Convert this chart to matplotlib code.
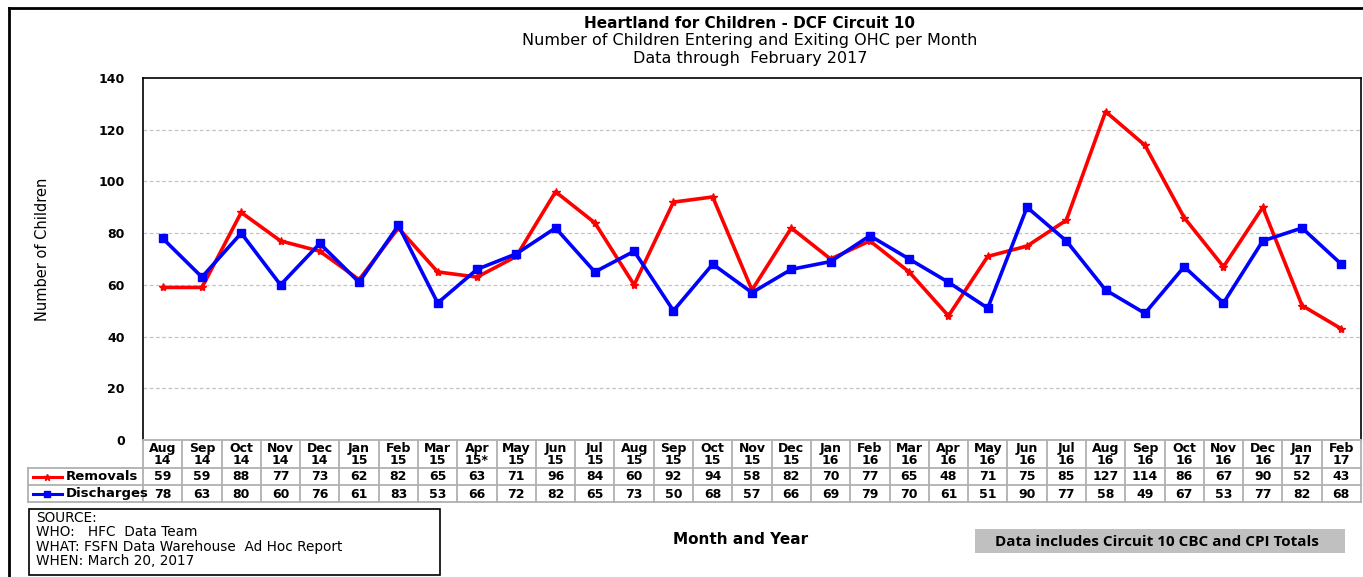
import matplotlib.pyplot as plt
from matplotlib.patches import Rectangle
from matplotlib.lines import Line2D

months = ['Aug\n14', 'Sep\n14', 'Oct\n14', 'Nov\n14', 'Dec\n14', 'Jan\n15', 'Feb\n15', 'Mar\n15',
          'Apr\n15*', 'May\n15', 'Jun\n15', 'Jul\n15', 'Aug\n15', 'Sep\n15', 'Oct\n15', 'Nov\n15',
          'Dec\n15', 'Jan\n16', 'Feb\n16', 'Mar\n16', 'Apr\n16', 'May\n16', 'Jun\n16', 'Jul\n16',
          'Aug\n16', 'Sep\n16', 'Oct\n16', 'Nov\n16', 'Dec\n16', 'Jan\n17', 'Feb\n17']
removals = [59, 59, 88, 77, 73, 62, 82, 65, 63, 71, 96, 84, 60, 92, 94, 58,
            82, 70, 77, 65, 48, 71, 75, 85, 127, 114, 86, 67, 90, 52, 43]
discharges = [78, 63, 80, 60, 76, 61, 83, 53, 66, 72, 82, 65, 73, 50, 68, 57,
              66, 69, 79, 70, 61, 51, 90, 77, 58, 49, 67, 53, 77, 82, 68]
yticks = [0, 20, 40, 60, 80, 100, 120, 140]

plt.rcParams['font.family'] = ['DejaVu Sans']

W, H = 1363, 577
fig = plt.figure(figsize=(W / 100, H / 100), dpi=100)


def fx(px):
    return px / W


def fy(py):
    return 1 - py / H


# main plot area (pixel box)
L, R, T, B = 143, 1361, 78, 440
ax = fig.add_axes([fx(L), fy(B), fx(R - L), fy(T) - fy(B)])
n = len(months)
x = list(range(n))
ax.plot(x, removals, color='#ff0000', lw=2.6, marker='*', ms=6, zorder=3)
ax.plot(x, discharges, color='#0000ff', lw=2.6, marker='s', ms=6, zorder=4)
ax.set_xlim(-0.5, n - 0.5)
ax.set_ylim(0, 140)
ax.set_yticks(yticks)
ax.set_yticklabels([str(v) for v in yticks], fontweight='bold', fontsize=9)
ax.tick_params(axis='y', length=0, pad=13)
ax.set_xticks([])
for v in yticks[1:-1]:
    ax.axhline(v, color='#c4c4c4', lw=0.9, ls=(0, (3, 2)), zorder=1)
for s in ['left', 'top', 'right']:
    ax.spines[s].set_linewidth(1.2)
ax.spines['bottom'].set_visible(False)
ax.set_ylabel('Number of Children', fontsize=10.5)
ax.yaxis.set_label_coords(-(L - 50) / (R - L), (B - 249) / (B - T))

# data table below the plot
TL = 28
tab = fig.add_axes([fx(TL), fy(502), fx(R - TL), fy(440) - fy(502)])
col_w = (R - L) / n
left_units = (L - TL) / col_w
tab.set_xlim(-0.5 - left_units, n - 0.5)
tab.set_ylim(502, 440)
tab.axis('off')
grid = '#b0b0b0'
rows = [440, 468, 485, 502]
for i in range(n + 1):
    tab.plot([i - 0.5, i - 0.5], [440, 502], color=grid, lw=1.3, clip_on=False)
tab.plot([-0.5 - left_units, -0.5 - left_units], [468, 502], color=grid, lw=1.3, clip_on=False)
tab.plot([-0.5, n - 0.5], [440, 440], color=grid, lw=1.3, clip_on=False)
for r in rows[1:]:
    tab.plot([-0.5 - left_units, n - 0.5], [r, r], color=grid, lw=1.3, clip_on=False)
for i in range(n):
    tab.text(i, 454.5, months[i], ha='center', va='center', fontsize=9, fontweight='bold',
             linespacing=0.92)
    tab.text(i, 477, str(removals[i]), ha='center', va='center', fontsize=9, fontweight='bold')
    tab.text(i, 494, str(discharges[i]), ha='center', va='center', fontsize=9, fontweight='bold')
x0 = -0.5 - left_units
lx = [x0 + 5 / col_w, x0 + 19 / col_w, x0 + 34 / col_w]
tab.add_line(Line2D(lx, [477] * 3, color='#ff0000', lw=2.2, marker='*', ms=5,
                    markevery=[1], clip_on=False))
tab.add_line(Line2D(lx, [494] * 3, color='#0000ff', lw=2.2, marker='s', ms=4,
                    markevery=[1], clip_on=False))
tab.text(x0 + 38 / col_w, 476, 'Removals', ha='left', va='center', fontsize=9.5, fontweight='bold')
tab.text(x0 + 38 / col_w, 493, 'Discharges', ha='left', va='center', fontsize=9.5,
         fontweight='bold')

# titles
fig.text(fx(750), fy(23), 'Heartland for Children - DCF Circuit 10', ha='center', va='center',
         fontsize=11, fontweight='bold')
fig.text(fx(750), fy(41), 'Number of Children Entering and Exiting OHC per Month', ha='center',
         va='center', fontsize=11.5)
fig.text(fx(750), fy(58), 'Data through  February 2017', ha='center', va='center', fontsize=11.5)

# outer frame
fig.add_artist(Line2D([fx(9), fx(9)], [fy(8), 0], color='black', lw=2, transform=fig.transFigure))
fig.add_artist(Line2D([fx(9), 1], [fy(8), fy(8)], color='black', lw=2, transform=fig.transFigure))

# source box
fig.add_artist(Rectangle((fx(29), fy(575)), fx(440 - 29), fy(509) - fy(575), fill=False,
                         ec='black', lw=1.2, transform=fig.transFigure))
src = ['SOURCE:', 'WHO:   HFC  Data Team', 'WHAT: FSFN Data Warehouse  Ad Hoc Report',
       'WHEN: March 20, 2017']
for k, line in enumerate(src):
    fig.text(fx(36), fy(518 + k * 14.3), line, ha='left', va='center', fontsize=9.8)

fig.text(fx(741), fy(539), 'Month and Year', ha='center', va='center', fontsize=11,
         fontweight='bold')

fig.add_artist(Rectangle((fx(975), fy(553)), fx(1345 - 975), fy(529) - fy(553), fc='#c0c0c0',
                         ec='none', transform=fig.transFigure))
fig.text(fx(1157), fy(541.5), 'Data includes Circuit 10 CBC and CPI Totals', ha='center',
         va='center', fontsize=11, fontweight='bold', family=['Open Sans', 'DejaVu Sans'])

fig.savefig('out.png', dpi=100)
